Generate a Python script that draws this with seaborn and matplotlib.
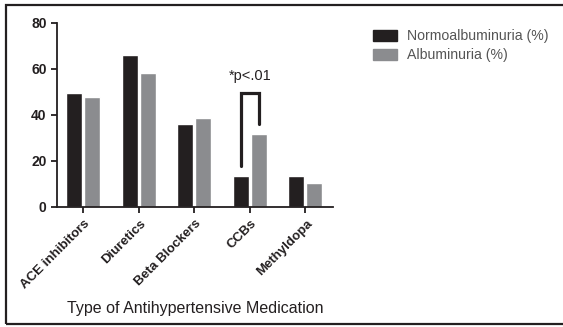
import matplotlib
matplotlib.use('Agg')
import matplotlib.pyplot as plt
import matplotlib.patches as mpatches
import matplotlib.transforms as mtransforms
import pandas as pd
import seaborn as sns

# Data
medications = ['ACE inhibitors', 'Diuretics', 'Beta Blockers', 'CCBs', 'Methyldopa']
normo = [49.7, 66.3, 36.0, 13.5, 13.5]
albu = [47.7, 58.3, 38.6, 31.9, 10.5]
groups = ['Normoalbuminuria (%)', 'Albuminuria (%)']

df = pd.DataFrame({
    'Medication': medications * 2,
    'Group': [groups[0]] * len(medications) + [groups[1]] * len(medications),
    'Value': normo + albu,
})

sns.set_style('ticks')
plt.rcParams['font.family'] = ['Liberation Sans', 'DejaVu Sans']

colors = ['#231f20', '#8b8c8f']

fig = plt.figure(figsize=(5.63, 3.27), dpi=100)
ax = fig.add_axes([57 / 563, 1 - 207 / 327, 276 / 563, 184 / 327])

sns.barplot(data=df, x='Medication', y='Value', hue='Group', palette=colors,
            width=0.654, gap=0.12, saturation=1, ax=ax, legend=False)

ax.set_ylim(0, 80)
ax.set_xlim(-0.47, 4.5)
ax.set_yticks([0, 20, 40, 60, 80])
sns.despine(ax=ax)
for s in ['left', 'bottom']:
    ax.spines[s].set_linewidth(1.3)
    ax.spines[s].set_color('#231f20')
ax.tick_params(axis='both', length=4, width=1.3, color='#231f20')
ax.set_yticklabels(['0', '20', '40', '60', '80'], fontsize=10, fontweight='bold',
                   color='#231f20')
ax.set_xticks(range(len(medications)))
ax.set_xticklabels(medications, rotation=45, ha='right', rotation_mode='anchor',
                   fontsize=9.5, fontweight='bold', color='#231f20')
# small nudge of the rotated labels
offset = mtransforms.ScaledTranslation(1 / 100, 0, fig.dpi_scale_trans)
for lbl in ax.get_xticklabels():
    lbl.set_transform(lbl.get_transform() + offset)
ax.set_ylabel('')
ax.set_xlabel('Type of Antihypertensive Medication', fontsize=11.5, color='#231f20')
ax.xaxis.set_label_coords(0.5, -0.549)
ax.xaxis.label.set_va('center')

# significance bracket on CCBs
x_left, x_right = 3 - 0.1635, 3 + 0.1635
ax.plot([x_left, x_left, x_right, x_right], [18, 49.5, 49.5, 36],
        color='#231f20', lw=2.3, solid_joinstyle='miter')
ax.text(3, 54, '*p<.01', ha='center', va='bottom', fontsize=10.5, color='#231f20')

handles = [mpatches.Patch(color=c, label=g) for c, g in zip(colors, groups)]
leg = fig.legend(handles=handles, loc='upper left', bbox_to_anchor=(0.652, 0.928),
                 frameon=False, fontsize=10.2, handlelength=1.7, handleheight=0.85,
                 handletextpad=0.7, labelspacing=0.35, borderaxespad=0)
for t in leg.get_texts():
    t.set_color('#555555')

# outer frame
fig.patches.append(mpatches.Rectangle((6 / 563, 3 / 327), 1.05, 1 - 8 / 327,
                                      transform=fig.transFigure, fill=False,
                                      edgecolor='#231f20', lw=1.6))

fig.savefig('out.png', dpi=100)
